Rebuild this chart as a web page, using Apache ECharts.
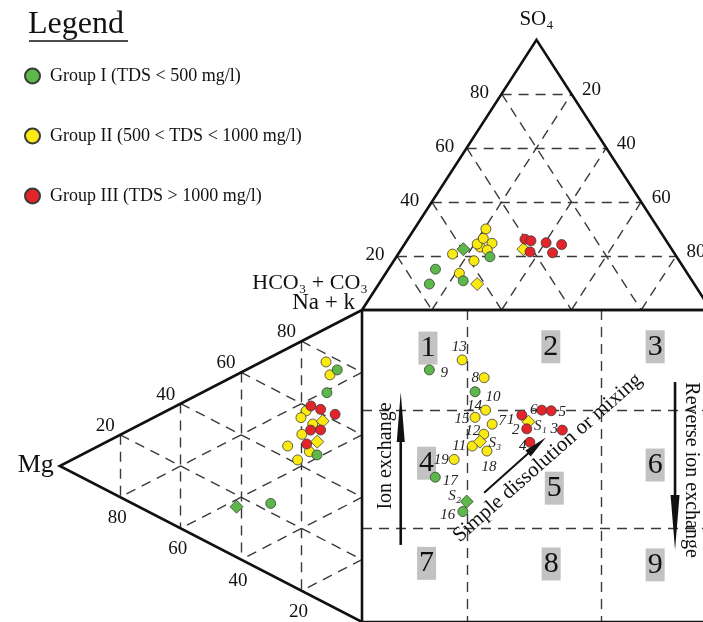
<!DOCTYPE html>
<html><head><meta charset="utf-8">
<script src="https://cdn.jsdelivr.net/npm/echarts@6.0.0/dist/echarts.min.js"></script>
<style>html,body{margin:0;padding:0;background:#fff;}#c{width:703px;height:622px;}</style>
</head><body><div id="c"></div>
<script>
// ================= DATA =================
const groups = ['Group I (TDS < 500 mg/l)', 'Group II (500 < TDS < 1000 mg/l)', 'Group III (TDS > 1000 mg/l)'];
const groupColors = ['#5cb848', '#fbea12', '#e4242b'];

// Anion triangle points: [SO4 %, Cl %]
const anionG1 = [[19.7, 26.8], [15.1, 13.5], [9.6, 14.5], [10.8, 23.6]];
const anionG1S = [[22.5, 17.8]];
const anionG2 = [[23.3, 22.2], [30.0, 20.5], [24.4, 20.8], [26.5, 21.5], [24.7, 24.9], [22.2, 24.8], [20.7, 15.6], [18.2, 23.0], [13.6, 21.1]];
const anionG2S = [[9.6, 28.2], [22.5, 35.0]];
const anionG3 = [[26.2, 33.6], [25.6, 35.6], [24.9, 40.3], [24.2, 45.1], [21.5, 37.4], [21.2, 44.0]];

// Cation triangle points: [Na+K %, Mg %]
const cationG1 = [[76.7, 8.2], [67.7, 11.6], [46.1, 14.9], [22.9, 30.2]];
const cationG1S = [[16.2, 41.5]];
const cationG2 = [[77.4, 11.9], [73.9, 10.6], [58.4, 18.5], [55.4, 20.2], [55.3, 16.3], [50.2, 19.9], [44.1, 24.6], [45.9, 17.4], [41.3, 21.3]];
const cationG2S = [[57.9, 13.0], [50.4, 14.8]];
const cationG3 = [[60.8, 16.9], [61.3, 13.7], [62.1, 8.9], [53.0, 17.0], [54.7, 13.7], [47.9, 18.3]];

// Square (expanded field) points: [x % from left, y % from top]
const squareG1 = [[19.3, 19.2], [32.4, 26.2], [21.0, 53.6], [28.9, 64.6]];
const squareG1Names = ['9', '10', '17', '16'];
const squareG1S = [[30.0, 61.4]];
const squareG1SNames = ['S\u2082'];
const squareG2 = [[28.7, 16.0], [35.0, 21.7], [35.4, 32.1], [32.4, 34.4], [37.3, 36.6], [34.9, 39.8], [31.6, 43.6], [35.8, 45.2], [26.4, 47.9]];
const squareG2Names = ['13', '8', '14', '15', '7', '12', '11', '18', '19'];
const squareG2S = [[33.8, 42.2], [47.7, 35.8]];
const squareG2SNames = ['S\u2083', 'S\u2081'];
const squareG3 = [[51.5, 32.1], [54.2, 32.3], [45.8, 33.7], [47.2, 38.1], [57.4, 38.5], [48.1, 42.4]];
const squareG3Names = ['6', '5', '1', '2', '3', '4'];

// tick labels and field division lines
const tickValues = [20, 40, 60, 80];
const squareDivX = [30.2, 68.6];
const squareDivY = [32.0, 69.9];
const zoneNames = ['1', '2', '3', '4', '5', '6', '7', '8', '9'];
const zonePos = [[18.9, 12.2], [54.1, 11.8], [84.0, 11.8], [18.5, 49.1], [55.1, 57.1], [84.0, 49.7], [18.5, 81.2], [54.2, 81.4], [84.0, 81.7]];

// ================= STYLE / LAYOUT =================
const FONT = "'Liberation Serif', 'Times New Roman', serif";
const TXT = '#111';
const SX = 3.49, SY = 3.12;
const XMIN = -362 / SX, XMAX = (703 - 362) / SX, YMAX = 310 / SY, YMIN = -100;
const R3 = Math.sqrt(3) / 2;
// point-label offsets (px) in the square
const labelOffsets = {
  '9': [15, 3], '10': [18, 5], '17': [15, 4], '16': [-15, 4], 'S\u2082': [-12, -6],
  '13': [-3, -13], '8': [-9, 0], '14': [-11, -4], '15': [-13, 2], '7': [10, -3], '12': [-11, -3],
  '11': [-13, 0], '18': [2, 16], '19': [-13, 1], 'S\u2083': [15, 1], 'S\u2081': [12, 4],
  '6': [-8, 0], '5': [11, 1], '1': [-11, 5], '2': [-11, 1], '3': [-8, -1], '4': [-7, 4]
};

function topXY(p) { const so4 = p[0], cl = p[1]; return [cl + so4 / 2, so4 * R3]; }
function leftXY(p) { const nak = p[0], mg = p[1], ca = 100 - nak - mg; return [-R3 * mg, -(ca + mg / 2)]; }
function sqXY(p) { return [p[0], -p[1]]; }

const chart = echarts.init(document.getElementById('c'), null, { renderer: 'canvas' });

// outlines
const outlines = [
  { coords: [topXY([0, 0]), topXY([100, 0]), topXY([0, 100]), topXY([0, 0])] },
  { coords: [leftXY([100, 0]), leftXY([0, 100]), leftXY([0, 0])] },
  { coords: [sqXY([0, 0]), sqXY([100, 0]), sqXY([100, 100]), sqXY([0, 100]), sqXY([0, 0])] }
];
// dashed grid
const dashed = [];
tickValues.forEach(k => {
  dashed.push({ coords: [topXY([k, 0]), topXY([k, 100 - k])] });
  dashed.push({ coords: [topXY([0, k]), topXY([100 - k, k])] });
  dashed.push({ coords: [topXY([100 - k, 0]), topXY([0, 100 - k])] });
  dashed.push({ coords: [leftXY([100 - k, k]), leftXY([0, k])] });
  dashed.push({ coords: [leftXY([k, 100 - k]), leftXY([k, 0])] });
  dashed.push({ coords: [leftXY([100 - k, 0]), leftXY([0, 100 - k])] });
});
squareDivX.forEach(x => dashed.push({ coords: [sqXY([x, 0]), sqXY([x, 100])] }));
squareDivY.forEach(y => dashed.push({ coords: [sqXY([0, y]), sqXY([100, y])] }));

const markBorder = { borderColor: '#3a3a3a', borderWidth: 0.8 };
function pts(g, circles, diamonds) {
  return [
    { name: groups[g], type: 'scatter', symbol: 'circle', symbolSize: 10, z: 5,
      itemStyle: Object.assign({ color: groupColors[g], opacity: 1 }, markBorder), data: circles },
    { name: groups[g], type: 'scatter', symbol: 'diamond', symbolSize: 13, z: 5,
      itemStyle: Object.assign({ color: groupColors[g], opacity: 1 }, markBorder), data: diamonds }
  ];
}
const g1c = anionG1.map(topXY).concat(cationG1.map(leftXY), squareG1.map(sqXY));
const g1d = anionG1S.map(topXY).concat(cationG1S.map(leftXY), squareG1S.map(sqXY));
const g2c = anionG2.map(topXY).concat(cationG2.map(leftXY), squareG2.map(sqXY));
const g2d = anionG2S.map(topXY).concat(cationG2S.map(leftXY), squareG2S.map(sqXY));
const g3c = anionG3.map(topXY).concat(cationG3.map(leftXY), squareG3.map(sqXY));

// point-number labels
const numLabels = [];
[[squareG1, squareG1Names], [squareG1S, squareG1SNames], [squareG2, squareG2Names], [squareG2S, squareG2SNames], [squareG3, squareG3Names]]
  .forEach(([arr, names]) => arr.forEach((p, i) => numLabels.push({
    value: sqXY(p), label: { formatter: names[i], offset: labelOffsets[names[i]] }
  })));

function labelSeries(data, labelStyle, z) {
  return { type: 'scatter', symbolSize: 1, silent: true, z: z || 6, itemStyle: { color: 'rgba(0,0,0,0)', opacity: 1 },
    label: Object.assign({ show: true, position: 'inside', fontFamily: FONT, color: TXT, opacity: 1 }, labelStyle), data: data };
}
const tickTopLeft = tickValues.map(v => ({ value: topXY([v, 0]), label: { formatter: String(v) } }));
const tickTopRight = tickValues.map(v => ({ value: topXY([100 - v, v]), label: { formatter: String(v) } }));
const tickLeftUpper = tickValues.map(v => ({ value: leftXY([v, 100 - v]), label: { formatter: String(v) } }));
const tickLeftLower = tickValues.map(v => ({ value: leftXY([0, v]), label: { formatter: String(v) } }));
const zoneData = zoneNames.map((n, i) => ({ value: sqXY(zonePos[i]), label: { formatter: n } }));

const option = {
  animation: false,
  backgroundColor: '#fff',
  grid: { left: 0, right: 0, top: 0, bottom: 0, containLabel: false, outerBoundsMode: 'none' },
  xAxis: { type: 'value', min: XMIN, max: XMAX, show: false },
  yAxis: { type: 'value', min: YMIN, max: YMAX, show: false },
  legend: {
    orient: 'vertical', left: 19, top: 62, itemGap: 42, itemWidth: 15, itemHeight: 15,
    icon: 'circle', selectedMode: false, data: groups,
    textStyle: { fontFamily: FONT, fontSize: 18, color: TXT, padding: [0, 0, 0, 5] }
  },
  series: [
    { type: 'lines', coordinateSystem: 'cartesian2d', silent: true, z: 1,
      lineStyle: { color: '#3a3a3a', width: 1.4, type: [10, 7], opacity: 1 }, data: dashed },
    { type: 'lines', coordinateSystem: 'cartesian2d', polyline: true, silent: true, z: 2,
      lineStyle: { color: '#111', width: 2.6, opacity: 1 }, data: outlines },
    ...pts(1, g2c, g2d),
    ...pts(0, g1c, g1d),
    ...pts(2, g3c, []),
    labelSeries(numLabels, { fontSize: 15, fontStyle: 'italic', color: '#222' }, 7),
    labelSeries(tickTopLeft, { fontSize: 19, offset: [-22, -1] }),
    labelSeries(tickTopRight, { fontSize: 19, offset: [20, -4] }),
    labelSeries(tickLeftUpper, { fontSize: 19, offset: [-15, -9] }),
    labelSeries(tickLeftLower, { fontSize: 19, offset: [-3, 21] }),
    labelSeries(zoneData, { fontSize: 30, color: '#111', backgroundColor: '#c2c2c2', padding: [1, 2, 0, 2], lineHeight: 32 }, 4),
    labelSeries([{ value: topXY([100, 0]), label: { formatter: 'SO\u2084', offset: [0, -20] } }], { fontSize: 21 }),
    labelSeries([{ value: topXY([0, 0]), label: { formatter: 'HCO\u2083 + CO\u2083', offset: [6, -27], align: 'right', verticalAlign: 'middle' } }], { fontSize: 22 }),
    labelSeries([{ value: leftXY([100, 0]), label: { formatter: 'Na + k', offset: [-7, -7], align: 'right', verticalAlign: 'middle' } }], { fontSize: 23 }),
    labelSeries([{ value: leftXY([0, 100]), label: { formatter: 'Mg', offset: [-6, -1], align: 'right', verticalAlign: 'middle' } }], { fontSize: 26 })
  ]
};
chart.setOption(option);

// ---------- annotations (arrows and texts), placed through the grid scale ----------
function px(p) { return chart.convertToPixel({ gridIndex: 0 }, sqXY(p)); }
function arrow(p0, p1, head, hw, lw) {
  const a = px(p0), b = px(p1);
  const dx = b[0] - a[0], dy = b[1] - a[1], L = Math.hypot(dx, dy), ux = dx / L, uy = dy / L;
  const bx = b[0] - ux * head, by = b[1] - uy * head;
  const nx = -uy * hw, ny = ux * hw;
  return [
    { type: 'line', z: 20, shape: { x1: a[0], y1: a[1], x2: bx + ux * 3, y2: by + uy * 3 }, style: { stroke: '#111', lineWidth: lw } },
    { type: 'polygon', z: 20, shape: { points: [[b[0], b[1]], [bx + nx, by + ny], [bx - nx, by - ny]] }, style: { fill: '#111' } }
  ];
}
function rtext(txt, p, rot, size) {
  const c = px(p);
  return { type: 'text', z: 20, x: c[0], y: c[1], rotation: rot,
    style: { text: txt, x: 0, y: 0, fontSize: size, fontFamily: FONT, fill: TXT,
      align: 'center', verticalAlign: 'middle', textAlign: 'center', textVerticalAlign: 'middle' } };
}
chart.setOption({
  graphic: [
    { type: 'text', z: 20, x: 28, y: 25, style: { text: 'Legend', fontSize: 32, fontFamily: FONT, fill: TXT,
      align: 'left', verticalAlign: 'middle', textAlign: 'left', textVerticalAlign: 'middle' } },
    { type: 'line', z: 20, shape: { x1: 29, y1: 41, x2: 128, y2: 41 }, style: { stroke: TXT, lineWidth: 1.5 } },
    ...arrow([11.1, 75.3], [11.1, 26.3], 50, 4, 2.6),
    ...arrow([89.7, 23.1], [89.7, 76.9], 55, 4.5, 2.6),
    ...arrow([35.0, 58.6], [52.7, 40.9], 24, 4, 2),
    rtext('Ion exchange', [6.9, 46.8], Math.PI / 2, 20),
    rtext('Reverse ion exchange', [94.4, 51.3], -Math.PI / 2, 20),
    rtext('Simple dissolution or mixing', [53.2, 47.4], 41.4 * Math.PI / 180, 21)
  ]
});
</script>
</body></html>
